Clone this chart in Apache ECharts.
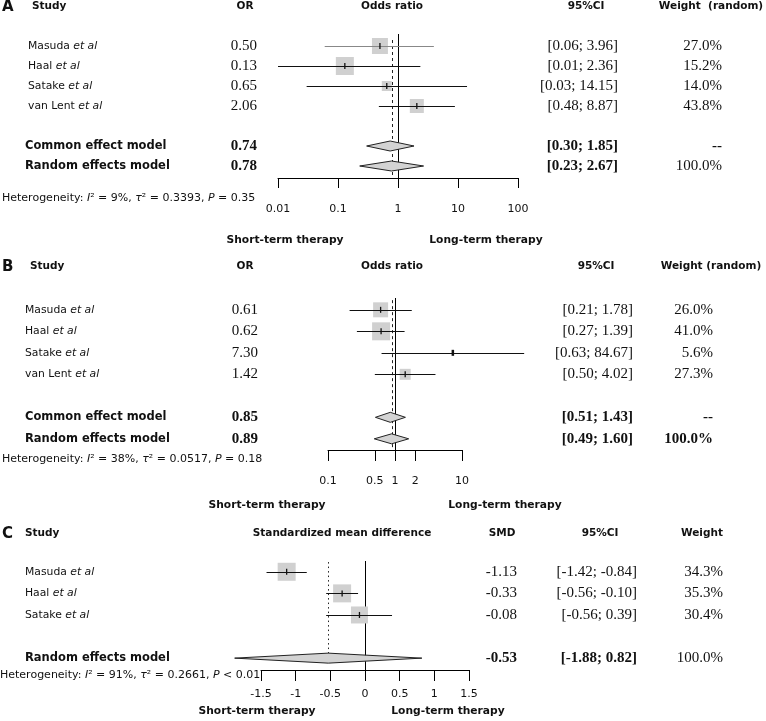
<!DOCTYPE html>
<html>
<head>
<meta charset="utf-8">
<script src="https://cdn.jsdelivr.net/npm/echarts@6/dist/echarts.min.js"></script>
<style>html,body{margin:0;padding:0;background:#fff}#main{width:766px;height:721px}</style>
</head>
<body>
<div id="main"></div>
<script>
// A - odds ratios
var studiesA = ['Masuda', 'Haal', 'Satake', 'van Lent'];
var orA = [0.50, 0.13, 0.65, 2.06];
var lowA = [0.06, 0.01, 0.03, 0.48];
var highA = [3.96, 2.36, 14.15, 8.87];
var weightA = [27.0, 15.2, 14.0, 43.8];
var modelsA = ['Common effect model', 'Random effects model'];
var modelOrA = [0.74, 0.78];
var modelLowA = [0.30, 0.23];
var modelHighA = [1.85, 2.67];
var modelWeightA = [null, 100.0];
var hetA = ['9%', '0.3393', '= 0.35'];
var ticksA = [0.01, 0.1, 1, 10, 100];

// B - odds ratios
var studiesB = ['Masuda', 'Haal', 'Satake', 'van Lent'];
var orB = [0.61, 0.62, 7.30, 1.42];
var lowB = [0.21, 0.27, 0.63, 0.50];
var highB = [1.78, 1.39, 84.67, 4.02];
var weightB = [26.0, 41.0, 5.6, 27.3];
var modelsB = ['Common effect model', 'Random effects model'];
var modelOrB = [0.85, 0.89];
var modelLowB = [0.51, 0.49];
var modelHighB = [1.43, 1.60];
var modelWeightB = [null, 100.0];
var hetB = ['38%', '0.0517', '= 0.18'];
var ticksB = [0.1, 0.5, 1, 2, 10];

// C - standardized mean difference
var studiesC = ['Masuda', 'Haal', 'Satake'];
var smdC = [-1.13, -0.33, -0.08];
var lowC = [-1.42, -0.56, -0.56];
var highC = [-0.84, -0.10, 0.39];
var weightC = [34.3, 35.3, 30.4];
var modelsC = ['Random effects model'];
var modelSmdC = [-0.53];
var modelLowC = [-1.88];
var modelHighC = [0.82];
var modelWeightC = [100.0];
var hetC = ['91%', '0.2661', '< 0.01'];
var ticksC = [-1.5, -1, -0.5, 0, 0.5, 1, 1.5];

// box sizes (px) and CI colours as drawn
var boxA = [16, 18, 10, 14];
var boxB = [15, 18, 0, 11];
var boxC = [18, 18, 17];
var ciColA = ['#888', '#111', '#111', '#111'];

var SANS = 'DejaVu Sans';
var SERIF = 'Liberation Serif';

var panels = [{
  studies: studiesA, est: orA, lo: lowA, hi: highA, w: weightA,
  models: modelsA, mEst: modelOrA, mLo: modelLowA, mHi: modelHighA, mW: modelWeightA,
  box: boxA, ciCol: ciColA, ticks: ticksA, log: true, ref: 1, het: hetA,
  L: {top: 34, height: 144, left: 278, width: 240, yMin: -0.6, yMax: 6.6, tickLen: 10, margin: 26,
      nameX: 28, modelX: 25, estX: 257, ciX: 618, wX: 722, dashFrom: -0.3, dashTo: 6.6, dash: [3, 3], mWBold: false, hetY: 198}
}, {
  studies: studiesB, est: orB, lo: lowB, hi: highB, w: weightB,
  models: modelsB, mEst: modelOrB, mLo: modelLowB, mHi: modelHighB, mW: modelWeightB,
  box: boxB, ticks: ticksB, log: true, ref: 1, het: hetB, custom: true,
  L: {top: 298, height: 152, left: 328, width: 134, yMin: -0.55, yMax: 6.52, tickLen: 11, margin: 26,
      nameX: 25, modelX: 25, estX: 258, ciX: 633, wX: 713, dashFrom: -0.45, dashTo: 6.52, dash: [3, 3], mWBold: true, hetY: 459}
}, {
  studies: studiesC, est: smdC, lo: lowC, hi: highC, w: weightC,
  models: modelsC, mEst: modelSmdC, mLo: modelLowC, mHi: modelHighC, mW: modelWeightC,
  box: boxC, ticks: ticksC, log: false, ref: 0, het: hetC,
  L: {top: 561, height: 109, left: 261, width: 208, yMin: -0.5, yMax: 4.55, tickLen: 11, margin: 19,
      nameX: 25, modelX: 25, estX: 517, ciX: 637, wX: 723, dashFrom: -0.45, dashTo: 4, dash: [1.5, 3], mWBold: false, hetY: 675}
}];

function fmt(v) { return v.toFixed(2); }
function px(v) { return Math.round(v) + 0.5; }

function rowsOf(p) {
  var rows = [];
  p.studies.forEach(function (s, i) {
    rows.push({row: i, i: i, name: s, est: p.est[i], lo: p.lo[i], hi: p.hi[i], w: p.w[i], model: false});
  });
  p.models.forEach(function (m, k) {
    rows.push({row: p.studies.length + 1 + k, name: m, est: p.mEst[k], lo: p.mLo[k], hi: p.mHi[k], w: p.mW[k], model: true});
  });
  return rows;
}

function txt(x, y, text, o) {
  o = o || {};
  return {
    type: 'text', x: x, y: y, silent: true,
    style: {
      text: text, fill: '#111',
      fontFamily: o.family || SANS, fontSize: o.size || 11,
      fontWeight: o.bold ? 'bold' : 'normal',
      align: o.align || 'left', textAlign: o.align || 'left',
      verticalAlign: 'middle', textVerticalAlign: 'middle',
      rich: o.rich
    }
  };
}

var grids = [], xAxes = [], yAxes = [], series = [];

panels.forEach(function (p, gi) {
  var L = p.L;
  var rows = rowsOf(p);
  var pooled = p.mEst[p.mEst.length - 1];

  grids.push({left: L.left, top: L.top, width: L.width, height: L.height});
  var xa = {
    gridIndex: gi, type: p.log ? 'log' : 'value', min: p.ticks[0], max: p.ticks[p.ticks.length - 1],
    position: 'bottom',
    axisLine: {show: true, onZero: false, lineStyle: {color: '#000', width: 1}},
    axisTick: {show: true, length: L.tickLen, lineStyle: {color: '#000', width: 1}},
    axisLabel: {margin: L.margin, fontFamily: SANS, fontSize: 11, color: '#111',
      formatter: function (v) { return String(+(+v).toPrecision(3)); }},
    splitLine: {show: false}
  };
  if (p.log) xa.logBase = 10;
  else xa.interval = 0.5;
  if (p.custom) {
    xa.axisTick.customValues = p.ticks;
    xa.axisLabel.customValues = p.ticks;
  }
  xAxes.push(xa);
  yAxes.push({gridIndex: gi, type: 'value', min: L.yMin, max: L.yMax, inverse: true, show: false});

  // solid line of no effect
  series.push({
    type: 'custom', xAxisIndex: gi, yAxisIndex: gi, silent: true, z: 2,
    data: [[p.ref, L.yMin]],
    renderItem: function (params, api) {
      var a = api.coord([p.ref, L.yMin]), b = api.coord([p.ref, L.yMax]);
      return {type: 'line', shape: {x1: px(a[0]), y1: a[1], x2: px(a[0]), y2: b[1]},
        style: {stroke: '#000', lineWidth: 1}};
    }
  });
  // dashed line at random effects estimate
  series.push({
    type: 'custom', xAxisIndex: gi, yAxisIndex: gi, silent: true, z: 2,
    data: [[pooled, L.dashFrom]],
    renderItem: function (params, api) {
      var a = api.coord([pooled, L.dashFrom]), b = api.coord([pooled, L.dashTo]);
      return {type: 'line', shape: {x1: px(a[0]), y1: a[1], x2: px(a[0]), y2: b[1]},
        style: {stroke: '#222', lineWidth: 1, lineDash: L.dash}};
    }
  });
  // study estimates
  series.push({
    type: 'custom', xAxisIndex: gi, yAxisIndex: gi, silent: true, z: 3,
    data: p.studies.map(function (s, i) { return [p.est[i], i]; }),
    renderItem: function (params, api) {
      var i = params.dataIndex;
      var c = api.coord([p.est[i], i]);
      var l = api.coord([p.lo[i], i]), h = api.coord([p.hi[i], i]);
      var s = p.box[i], y = px(c[1]);
      var col = p.ciCol ? p.ciCol[i] : '#111';
      var kids = [];
      if (s > 0) kids.push({type: 'rect', shape: {x: c[0] - s / 2, y: c[1] - s / 2, width: s, height: s},
        style: {fill: '#d0d0d0'}});
      kids.push({type: 'line', shape: {x1: l[0], y1: y, x2: h[0], y2: y}, style: {stroke: col, lineWidth: 1}});
      kids.push({type: 'line', shape: {x1: c[0], y1: c[1] - 3, x2: c[0], y2: c[1] + 3},
        style: {stroke: '#111', lineWidth: s > 0 ? 1.3 : 2.5}});
      return {type: 'group', children: kids};
    }
  });
  // pooled diamonds
  series.push({
    type: 'custom', xAxisIndex: gi, yAxisIndex: gi, silent: true, z: 3,
    data: p.models.map(function (m, k) { return [p.mEst[k], p.studies.length + 1 + k]; }),
    renderItem: function (params, api) {
      var k = params.dataIndex, r = p.studies.length + 1 + k;
      var c = api.coord([p.mEst[k], r]);
      var l = api.coord([p.mLo[k], r]), h = api.coord([p.mHi[k], r]);
      return {type: 'polygon',
        shape: {points: [[l[0], c[1]], [c[0], c[1] - 5], [h[0], c[1]], [c[0], c[1] + 5]]},
        style: {fill: '#d3d3d3', stroke: '#222', lineWidth: 1}};
    }
  });
  // table columns
  series.push({
    type: 'custom', xAxisIndex: gi, yAxisIndex: gi, silent: true, z: 4,
    data: rows.map(function (r) { return [p.ref, r.row]; }),
    renderItem: function (params, api) {
      var r = rows[params.dataIndex];
      var y = api.coord([p.ref, r.row])[1];
      var kids = [];
      if (r.model) {
        kids.push(txt(L.modelX, y, r.name, {bold: true, size: 11.5}));
      } else {
        kids.push(txt(L.nameX, y, r.name + ' {i|et al}', {size: 10.8,
          rich: {i: {fontFamily: SANS, fontSize: 10.8, fontStyle: 'italic', fill: '#111'}}}));
      }
      kids.push(txt(L.estX, y, fmt(r.est), {family: SERIF, size: 15, bold: r.model, align: 'right'}));
      kids.push(txt(L.ciX, y, '[' + fmt(r.lo) + '; ' + fmt(r.hi) + ']', {family: SERIF, size: 15, bold: r.model, align: 'right'}));
      kids.push(txt(L.wX, y, r.w == null ? '--' : r.w.toFixed(1) + '%',
        {family: SERIF, size: 15, bold: r.model && (L.mWBold || r.w == null), align: 'right'}));
      return {type: 'group', children: kids};
    }
  });
});

function het(h) {
  return 'Heterogeneity: {i|I}\u00b2 = ' + h[0] + ', {i|\u03c4}\u00b2 = ' + h[1] + ', {i|P} ' + h[2];
}
var hetRich = {i: {fontFamily: SANS, fontSize: 11, fontStyle: 'italic', fill: '#111'}};

var H = {bold: true, size: 10.5};
var graphics = [
  txt(2, 7, 'A', {bold: true, size: 15}),
  txt(32, 6, 'Study', H),
  txt(245, 6, 'OR', {bold: true, size: 10.5, align: 'center'}),
  txt(392, 6, 'Odds ratio', {bold: true, size: 10.5, align: 'center'}),
  txt(586, 6, '95%CI', {bold: true, size: 10.5, align: 'center'}),
  txt(711, 6, 'Weight  (random)', {bold: true, size: 10.5, align: 'center'}),
  txt(2, panels[0].L.hetY, het(hetA), {size: 11, rich: hetRich}),
  txt(285, 240, 'Short-term therapy', {bold: true, size: 10.7, align: 'center'}),
  txt(486, 240, 'Long-term therapy', {bold: true, size: 10.7, align: 'center'}),

  txt(2, 267, 'B', {bold: true, size: 15}),
  txt(30, 266, 'Study', H),
  txt(245, 266, 'OR', {bold: true, size: 10.5, align: 'center'}),
  txt(392, 266, 'Odds ratio', {bold: true, size: 10.5, align: 'center'}),
  txt(596, 266, '95%CI', {bold: true, size: 10.5, align: 'center'}),
  txt(711, 266, 'Weight (random)', {bold: true, size: 10.5, align: 'center'}),
  txt(2, panels[1].L.hetY, het(hetB), {size: 11, rich: hetRich}),
  txt(267, 505, 'Short-term therapy', {bold: true, size: 10.7, align: 'center'}),
  txt(505, 505, 'Long-term therapy', {bold: true, size: 10.7, align: 'center'}),

  txt(2, 534, 'C', {bold: true, size: 15}),
  txt(25, 533, 'Study', H),
  txt(342, 533, 'Standardized mean difference', {bold: true, size: 10.5, align: 'center'}),
  txt(502, 533, 'SMD', {bold: true, size: 10.5, align: 'center'}),
  txt(600, 533, '95%CI', {bold: true, size: 10.5, align: 'center'}),
  txt(702, 533, 'Weight', {bold: true, size: 10.5, align: 'center'}),
  txt(0, panels[2].L.hetY, het(hetC), {size: 11, rich: hetRich}),
  txt(257, 711, 'Short-term therapy', {bold: true, size: 10.7, align: 'center'}),
  txt(448, 711, 'Long-term therapy', {bold: true, size: 10.7, align: 'center'})
];

var chart = echarts.init(document.getElementById('main'));
chart.setOption({
  animation: false,
  backgroundColor: '#fff',
  grid: grids,
  xAxis: xAxes,
  yAxis: yAxes,
  series: series,
  graphic: {elements: graphics}
});
</script>
</body>
</html>
